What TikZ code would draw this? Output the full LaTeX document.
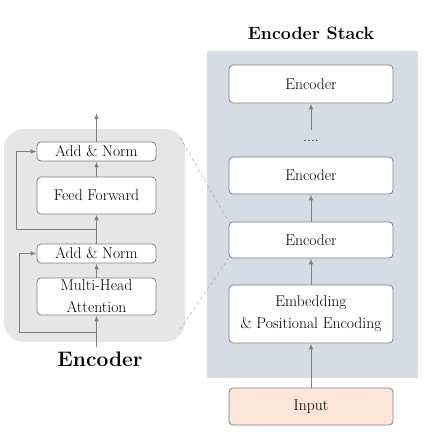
\documentclass[tikz,border=0pt]{standalone}
\usetikzlibrary{calc}
\usetikzlibrary{arrows.meta}
\definecolor{linegray}{RGB}{128,128,128}
\definecolor{dashgray}{RGB}{175,175,175}
\definecolor{encgray}{RGB}{230,230,230}
\definecolor{stackblue}{RGB}{214,220,229}
\definecolor{inpeach}{RGB}{251,229,214}

\begin{document}
\begin{tikzpicture}[
		x=1pt, y=-1pt,
		>={Latex[length=6pt, width=4.5pt]},
		font=\fontsize{15.6}{22}\selectfont,
		block/.style={draw=linegray,line width=0.8pt,fill=white,rounded corners=4pt,inner sep=0pt,align=center},
		lblock/.style={block,minimum width=119pt},
		rblock/.style={block,minimum width=164pt},
		flow/.style={draw=linegray,line width=0.9pt,->},
		zoomline/.style={draw=dashgray,dashed,line width=0.6pt},
		title/.style={font=\fontsize{17.8}{20}\selectfont\bfseries},
	]
	\useasboundingbox (0,0) rectangle (424,440);
	\node[fill=stackblue,minimum width=211pt,minimum height=327pt,inner sep=0pt] (stack) at (312.5,214.5) {};
	\node[fill=encgray,rounded corners=20pt,minimum width=181pt,minimum height=213pt,inner sep=0pt] (encbg) at (94.5,235.5) {};
	\node[title] (stacktitle) at (311,33) {Encoder Stack};
	\node[title,font=\fontsize{21}{24}\selectfont\bfseries] (enctitle) at (100,359) {Encoder};

	\node[lblock,minimum height=19pt] (an2) at (96.5,151.5) {Add \& Norm};
	\node[lblock,minimum height=37pt] (ff)  at (96.5,195.5) {Feed Forward};
	\node[lblock,minimum height=19pt] (an1) at (96.5,253.5) {Add \& Norm};
	\node[lblock,minimum height=37pt] (mha) at (96.5,296.5) {Multi-Head\\Attention};

	\node[rblock,minimum height=38pt] (e3)  at (311,84)    {Encoder};
	\node (dots) at (311,141) {....};
	\node[rblock,minimum height=37pt] (e2)  at (311,175.5) {Encoder};
	\node[rblock,minimum height=36pt] (e1)  at (311,240)   {Encoder};
	\node[rblock,minimum height=58pt] (emb) at (311,314)   {Embedding\\\& Positional Encoding};
	\node[rblock,minimum height=37pt,fill=inpeach] (inp) at (311,406.5) {Input};

	\coordinate (in)  at (96.5,347);
	\coordinate (out) at (96.5,113);
	\coordinate (r1)  at (96.5,332);
	\coordinate (r2)  at (96.5,229);
	\coordinate (up)  at (311,130);
	\draw[flow] (in) -- (mha);
	\draw[flow] (mha) -- (an1);
	\draw[flow] (an1) -- (ff);
	\draw[flow] (ff) -- (an2);
	\draw[flow] (an2) -- (out);
	\draw[flow] (r1) -| ([xshift=-17pt]an1.west) -- (an1.west);
	\draw[flow] (r2) -| ([xshift=-20pt]an2.west) -- (an2.west);

	\draw[flow] (inp) -- (emb);
	\draw[flow] (emb) -- (e1);
	\draw[flow] (e1) -- (e2);
	\draw[flow] (up) -- (e3);

	\draw[zoomline] ($(encbg.north east)+(-5,9)$) -- (e1.north west);
	\draw[zoomline] ($(encbg.south east)+(-5,-13)$) -- (e1.south west);
\end{tikzpicture}
\end{document}
